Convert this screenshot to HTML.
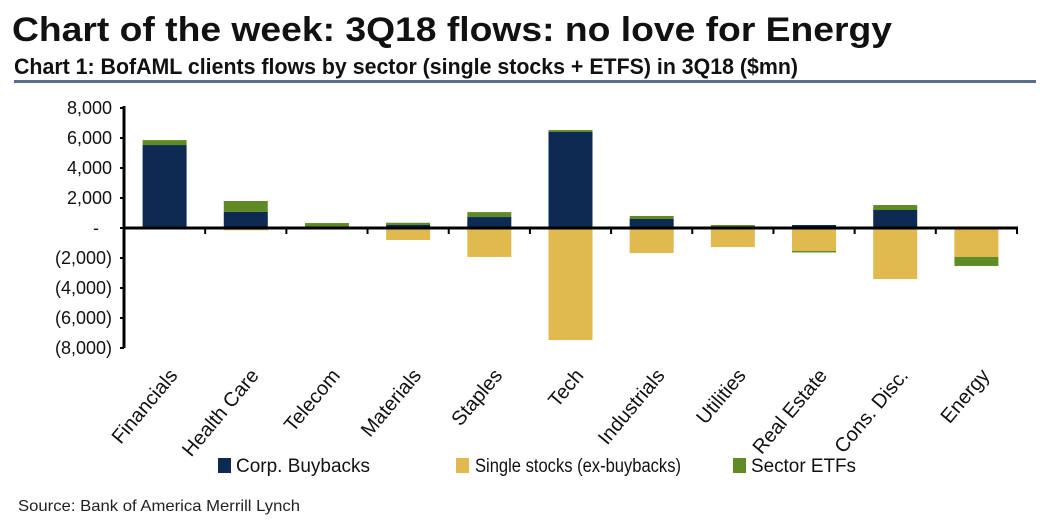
<!DOCTYPE html>
<html><head><meta charset="utf-8"><style>
html,body{margin:0;padding:0;background:#fff;}
svg{display:block;font-family:"Liberation Sans Narrow","Liberation Sans",sans-serif;}
</style></head><body>
<svg id="c" width="1054" height="521" viewBox="0 0 1054 521">
<text x="12" y="41" font-size="34" font-weight="bold" fill="#111" textLength="880" lengthAdjust="spacingAndGlyphs">Chart of the week: 3Q18 flows: no love for Energy</text>
<text x="14" y="74" font-size="22" font-weight="bold" fill="#111" textLength="784" lengthAdjust="spacingAndGlyphs">Chart 1: BofAML clients flows by sector (single stocks + ETFS) in 3Q18 ($mn)</text>
<rect x="14" y="80" width="1022" height="3" fill="#5a6e8c"/>
<g id="plot"></g>
<g>
<rect x="218" y="458" width="13" height="15" fill="#0c2a52"/>
<text x="236" y="472" font-size="19" fill="#111" textLength="134" lengthAdjust="spacingAndGlyphs">Corp. Buybacks</text>
<rect x="456" y="458" width="13" height="15" fill="#e0b94f"/>
<text x="475" y="472" font-size="19" fill="#111" textLength="206" lengthAdjust="spacingAndGlyphs">Single stocks (ex-buybacks)</text>
<rect x="733" y="458" width="13" height="15" fill="#5f8a24"/>
<text x="751" y="472" font-size="19" fill="#111" textLength="105" lengthAdjust="spacingAndGlyphs">Sector ETFs</text>
</g>
<text x="18" y="511" font-size="16" fill="#222" textLength="282" lengthAdjust="spacingAndGlyphs">Source:  Bank of America Merrill Lynch</text>
</svg>
<script>
const categories=["Financials","Health Care","Telecom","Materials","Staples","Tech","Industrials","Utilities","Real Estate","Cons. Disc.","Energy"];
const buybacks=[5530,1070,0,200,730,6400,600,0,200,1200,0];
const singleStocks=[0,-150,-100,-800,-1930,-7470,-1670,-1270,-1530,-3400,-1930];
const sectorEtfs=[330,730,330,150,330,130,200,200,-100,330,-600];
const yTicks=[8000,6000,4000,2000,0,-2000,-4000,-6000,-8000];
const yTickLabels=["8,000","6,000","4,000","2,000","-","(2,000)","(4,000)","(6,000)","(8,000)"];

const NS="http://www.w3.org/2000/svg";
const g=document.getElementById("plot");
const x0=124,x1=1017,bw=(x1-x0)/categories.length;
function y(v){return 228-v*0.015;}
function mk(t,a){const e=document.createElementNS(NS,t);for(const k in a)e.setAttribute(k,a[k]);g.appendChild(e);return e;}
const colors={b:"#0c2a52",s:"#e0b94f",e:"#5f8a24"};
categories.forEach((c,i)=>{
  const cx=x0+bw*(i+0.5),w=44;
  let pos=0,neg=0;
  [[buybacks[i],colors.b,"buybacks"],[singleStocks[i],colors.s,"single-stocks"],[sectorEtfs[i],colors.e,"sector-etfs"]].forEach(([v,col,nm])=>{
    if(!v)return;
    let top,bot;
    if(v>0){bot=pos;pos+=v;top=pos;}else{top=neg;neg+=v;bot=neg;}
    const r=mk("rect",{x:cx-w/2,y:y(top),width:w,height:Math.max(0,y(bot)-y(top)),fill:col});
    
    
  });
  const t=mk("text",{x:cx+14,y:376,"font-size":20,fill:"#111","text-anchor":"end",transform:`rotate(-50 ${cx+14} 376)`});
  t.textContent=c;
  
  
});
const ya=mk("line",{x1:x0,x2:x0,y1:y(8000)-2,y2:y(-8000),stroke:"#000","stroke-width":3});


yTicks.forEach((v,i)=>{
  const tk=mk("line",{x1:x0-4,x2:x0,y1:y(v),y2:y(v),stroke:"#000","stroke-width":2});
  
  
  const t=mk("text",{x:v===0?99:112,y:y(v)+6,"font-size":18,fill:"#111","text-anchor":"end"});
  t.textContent=yTickLabels[i];
  
  
});
const xa=mk("line",{x1:x0,x2:x1+1,y1:y(0),y2:y(0),stroke:"#000","stroke-width":3});


for(let i=1;i<=categories.length;i++){
  const tk=mk("line",{x1:x0+bw*i,x2:x0+bw*i,y1:y(0),y2:y(0)+6,stroke:"#000","stroke-width":2});
  
  
}
</script>
</body></html>
